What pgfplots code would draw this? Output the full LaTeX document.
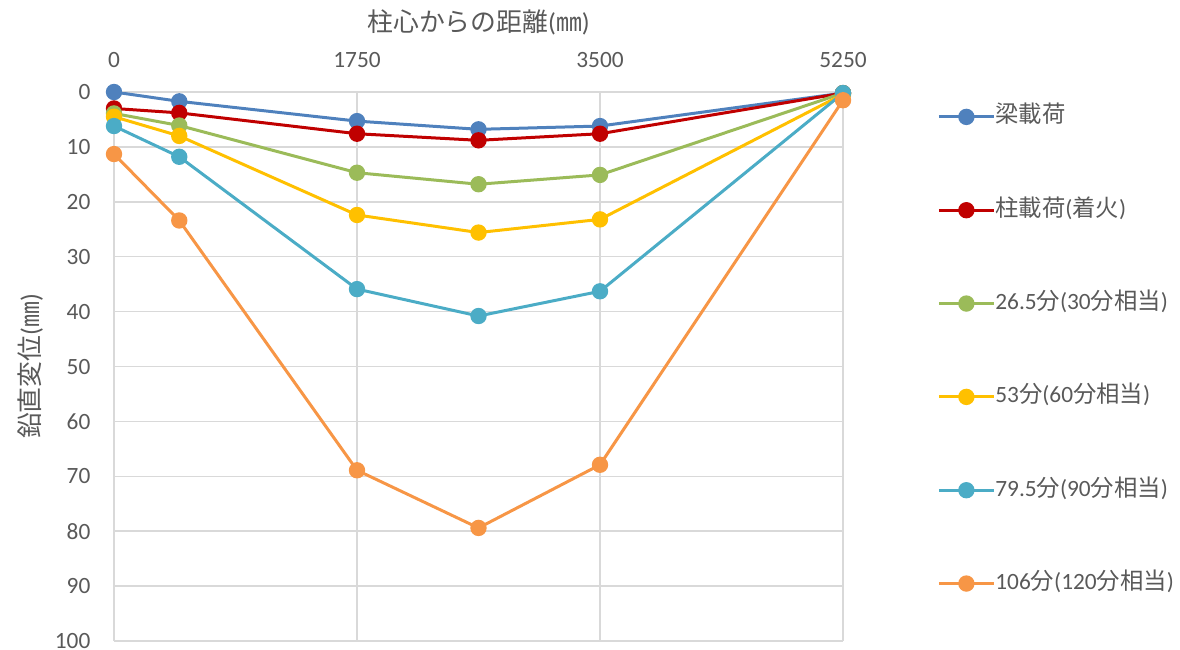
\documentclass[border=0pt]{standalone}
\usepackage{fontspec}
\setmainfont{Carlito}
\newfontfamily\cjk{Noto Sans CJK JP}
\usepackage{pgfplots}
\pgfplotsset{compat=1.18}

\definecolor{sBlue}{HTML}{4F81BD}
\definecolor{sRed}{HTML}{C00000}
\definecolor{sGreen}{HTML}{9BBB59}
\definecolor{sYellow}{HTML}{FFC000}
\definecolor{sTeal}{HTML}{4BACC6}
\definecolor{sOrange}{HTML}{F79646}
\definecolor{txt}{HTML}{595959}
\definecolor{grd}{HTML}{D9D9D9}

\begin{document}
\begin{tikzpicture}
\useasboundingbox (-68.4pt,-4.8pt) rectangle (639.6pt,384.6pt);
\begin{axis}[
    scale only axis,
    width=437.4pt, height=329.4pt,
    at={(0,0)}, anchor=south west,
    xmin=0, xmax=5250,
    ymin=0, ymax=100,
    y dir=reverse,
    xtick={0,1750,3500,5250},
    ytick={0,10,...,100},
    xticklabel pos=upper,
    /pgf/number format/assume math mode=true,
    /pgf/number format/1000 sep={},
    grid=major,
    major grid style={grd, line width=0.9pt},
    axis line style={draw=none},
    major tick length=0pt,
    tick label style={font=\fontsize{14}{16}\selectfont, text=txt},
    xticklabel style={anchor=center, yshift=19pt},
    yticklabel style={anchor=east, inner sep=0pt, xshift=-14pt},
    xlabel={{\cjk 柱心からの距離}({\cjk ㎜})},
    xlabel style={at={(axis description cs:0.5,1.1275)}, anchor=center,
        font=\fontsize{15.5}{17}\selectfont, text=txt},
    ylabel={{\cjk 鉛直変位}({\cjk ㎜})},
    ylabel style={at={(axis description cs:-0.115,0.5)}, anchor=center,
        font=\fontsize{15.5}{17}\selectfont, text=txt},
    every axis plot/.append style={line width=1.8pt, mark=*, mark size=4pt},
    legend style={at={(axis description cs:1.129,0.972)}, anchor=north west,
        draw=none, fill=none, inner sep=0pt,
        font=\fontsize{14}{16}\selectfont, text=txt,
        row sep=45pt,
        nodes={inner sep=0pt, text height=9pt, text depth=2pt, xshift=3pt}},
    legend cell align=left,
    legend image code/.code={
        \draw[mark repeat=2, mark phase=2, #1]
            plot coordinates {(0pt,0pt) (16.5pt,0pt) (33pt,0pt)};},
]
\addplot[sBlue, mark options={fill=sBlue}] coordinates {
    (0,0.0) (470,1.7) (1750,5.3) (2625,6.8) (3500,6.2) (5250,0.2)
};
\addlegendentry{{\cjk 梁載荷}}

\addplot[sRed, mark options={fill=sRed}] coordinates {
    (0,3.0) (470,3.8) (1750,7.6) (2625,8.8) (3500,7.6) (5250,0.2)
};
\addlegendentry{{\cjk 柱載荷}({\cjk 着火})}

\addplot[sGreen, mark options={fill=sGreen}] coordinates {
    (0,3.9) (470,6.1) (1750,14.7) (2625,16.8) (3500,15.1) (5250,0.2)
};
\addlegendentry{26.5{\cjk 分}(30{\cjk 分相当})}

\addplot[sYellow, mark options={fill=sYellow}] coordinates {
    (0,4.5) (470,8.0) (1750,22.4) (2625,25.6) (3500,23.2) (5250,0.4)
};
\addlegendentry{53{\cjk 分}(60{\cjk 分相当})}

\addplot[sTeal, mark options={fill=sTeal}] coordinates {
    (0,6.2) (470,11.8) (1750,35.9) (2625,40.8) (3500,36.3) (5250,0.2)
};
\addlegendentry{79.5{\cjk 分}(90{\cjk 分相当})}

\addplot[sOrange, mark options={fill=sOrange}] coordinates {
    (0,11.3) (470,23.4) (1750,68.9) (2625,79.4) (3500,67.9) (5250,1.5)
};
\addlegendentry{106{\cjk 分}(120{\cjk 分相当})}
\end{axis}
\end{tikzpicture}
\end{document}
